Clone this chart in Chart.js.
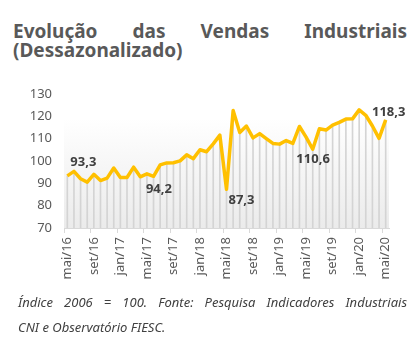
<!DOCTYPE html>
<html>
<head>
<meta charset="utf-8">
<script src="https://cdn.jsdelivr.net/npm/chart.js@4.4.1/dist/chart.umd.min.js"></script>
<style>
  body { margin: 0; background: #fff; width: 420px; height: 354px; position: relative; overflow: hidden; }
  #title {
    position: absolute; left: 13px; top: 22px; width: 394px;
    font-family: "Noto Sans", sans-serif; font-weight: bold; font-size: 19px; line-height: 19px;
    color: #595959; text-align: justify;
  }
  #wrap { position: absolute; left: 0; top: 74px; width: 420px; height: 221px; }
  .note {
    position: absolute; left: 18px; width: 389px;
    font-family: "Noto Sans", sans-serif; font-style: italic; font-size: 13px; line-height: 16px;
    color: #404040;
  }
  #note1 { top: 294px; text-align: justify; text-align-last: justify; }
  #note2 { top: 319px; }
</style>
</head>
<body>
<div id="title">Evolução das Vendas Industriais (Dessazonalizado)</div>
<div id="wrap"><canvas id="myChart" width="420" height="221"></canvas></div>
<div class="note" id="note1">Índice 2006 = 100. Fonte: Pesquisa Indicadores Industriais</div>
<div class="note" id="note2">CNI e Observatório FIESC.</div>
<script>
let months = [
    'mai/16','jun/16','jul/16','ago/16','set/16','out/16','nov/16','dez/16',
    'jan/17','fev/17','mar/17','abr/17','mai/17','jun/17','jul/17','ago/17','set/17','out/17','nov/17','dez/17',
    'jan/18','fev/18','mar/18','abr/18','mai/18','jun/18','jul/18','ago/18','set/18','out/18','nov/18','dez/18',
    'jan/19','fev/19','mar/19','abr/19','mai/19','jun/19','jul/19','ago/19','set/19','out/19','nov/19','dez/19',
    'jan/20','fev/20','mar/20','abr/20','mai/20'
];

let vendas = [
    93.3, 95.3, 92.0, 90.5, 94.0, 91.2, 92.3, 96.8,
    92.6, 92.6, 97.2, 92.9, 94.2, 93.1, 98.2, 99.1, 99.2, 100.0, 102.7, 101.0,
    105.0, 104.1, 107.6, 111.5, 87.3, 122.5, 112.7, 115.6, 110.3, 112.2, 110.0, 107.8,
    107.5, 109.1, 107.8, 115.4, 110.6, 105.2, 114.4, 113.8, 116.0, 117.2, 118.7, 118.8,
    122.8, 120.4, 115.6, 110.1, 118.3
];

let y_ticks = [70, 80, 90, 100, 110, 120, 130];
let labeled_points = [0, 12, 24, 36, 48];

// where each value label sits relative to its point
let label_offsets = {0: [16, -14], 12: [12, 15], 24: [15, 11], 36: [7, 22], 48: [3, -8]};

let plotBackground = {
    id: 'plotBackground',
    beforeDatasetsDraw(chart) {
        let ctx = chart.ctx;
        let area = chart.chartArea;
        let top = chart.scales.y.getPixelForValue(119);
        let grad = ctx.createLinearGradient(0, top, 0, area.bottom);
        grad.addColorStop(0, '#ffffff');
        grad.addColorStop(1, '#ebebeb');
        ctx.save();
        ctx.fillStyle = grad;
        ctx.fillRect(area.left, top, area.right - area.left, area.bottom - top);
        ctx.restore();
    }
};

let valueLabels = {
    id: 'valueLabels',
    afterDatasetsDraw(chart) {
        let ctx = chart.ctx;
        let meta = chart.getDatasetMeta(1);
        ctx.save();
        ctx.font = 'bold 13px "Noto Sans", sans-serif';
        ctx.fillStyle = '#404040';
        ctx.textAlign = 'center';
        ctx.textBaseline = 'middle';
        for (let i = 0; i < labeled_points.length; i++) {
            let idx = labeled_points[i];
            let pt = meta.data[idx];
            let off = label_offsets[idx];
            let txt = vendas[idx].toFixed(1).replace('.', ',');
            ctx.fillText(txt, pt.x + off[0], pt.y + off[1]);
        }
        ctx.restore();
    }
};

let config = {
    type: 'bar',
    data: {
        labels: months,
        datasets: [
            {
                type: 'bar',
                data: vendas,
                backgroundColor: '#d4d4d4',
                barThickness: 1,
                order: 2
            },
            {
                type: 'line',
                data: vendas,
                borderColor: '#FFC000',
                borderWidth: 3.5,
                pointRadius: 0,
                tension: 0,
                borderJoinStyle: 'round',
                order: 1
            }
        ]
    },
    options: {
        responsive: false,
        animation: false,
        layout: { padding: { top: 0, right: 31, left: 0, bottom: 0 } },
        plugins: {
            legend: { display: false },
            tooltip: { enabled: false }
        },
        scales: {
            x: {
                offset: true,
                grid: {
                    offset: true,
                    drawOnChartArea: false,
                    drawTicks: true,
                    tickLength: 5,
                    color(c) {
                        return (c.index % 4 == 0) ? '#d9d9d9' : 'rgba(0,0,0,0)';
                    }
                },
                border: { display: true, color: '#d9d9d9' },
                ticks: {
                    autoSkip: false,
                    maxRotation: 90,
                    minRotation: 90,
                    padding: 4,
                    color: '#595959',
                    font: { family: '"Noto Sans", sans-serif', size: 13 },
                    callback(value, index) {
                        return (index % 4 == 0) ? months[index] : '';
                    }
                },
                afterFit(scale) { scale.height = 67; }
            },
            y: {
                min: 70,
                max: 130,
                grid: { display: false, drawTicks: false },
                border: { display: false },
                afterBuildTicks(scale) {
                    scale.ticks = y_ticks.map(v => ({ value: v }));
                },
                ticks: {
                    padding: 12,
                    color: '#595959',
                    font: { family: '"Noto Sans", sans-serif', size: 13 }
                },
                afterFit(scale) { scale.width = 64; }
            }
        }
    },
    plugins: [plotBackground, valueLabels]
};

window.chart = new Chart(document.getElementById('myChart'), config);
</script>
</body>
</html>
